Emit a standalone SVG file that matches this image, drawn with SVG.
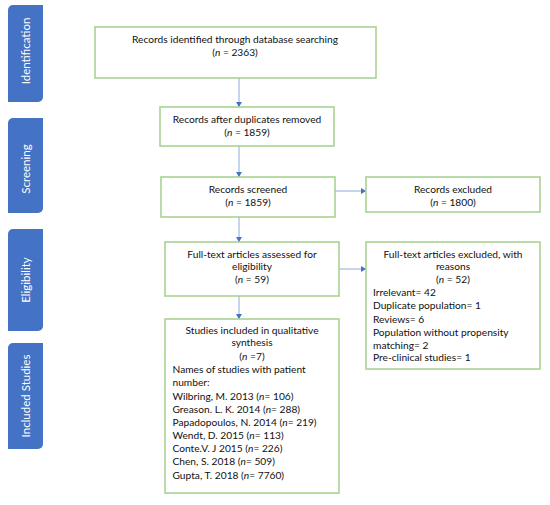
<svg xmlns="http://www.w3.org/2000/svg" width="550" height="505" viewBox="0 0 550 505">
<style>
.tab{fill:#4472C4}
.tabt{fill:#fff;font-family:Lato,"Liberation Sans",sans-serif;font-size:11.5px;text-anchor:middle}
.box{fill:#fff;stroke:#A3D08A;stroke-width:1.5}
.t{font-family:Lato,"Liberation Sans",sans-serif;font-size:10.2px;fill:#111}
.c{text-anchor:middle}
.i{font-style:italic}
.con line{stroke:#8EAADC;stroke-width:1}
</style>
<defs>
<marker id="ah" markerWidth="6" markerHeight="6" refX="5" refY="3" orient="auto" markerUnits="userSpaceOnUse">
<path d="M0,0 L5,3 L0,6 Z" fill="#4472C4"/>
</marker>
</defs>
<rect width="550" height="505" fill="#fff"/>

<g id="tab-identification">
<path class="tab" d="M13,5 H43 V97 A5,5 0 0 1 38,102 H8 V10 A5,5 0 0 1 13,5 Z"/>
<text class="tabt" transform="translate(29.5,51) rotate(-90)">Identification</text>
</g>
<g id="tab-screening">
<path class="tab" d="M13,118 H43 V208 A5,5 0 0 1 38,213 H8 V123 A5,5 0 0 1 13,118 Z"/>
<text class="tabt" transform="translate(29.5,169) rotate(-90)">Screening</text>
</g>
<g id="tab-eligibility">
<path class="tab" d="M13,229 H43 V326 A5,5 0 0 1 38,331 H8 V234 A5,5 0 0 1 13,229 Z"/>
<text class="tabt" transform="translate(29.5,280) rotate(-90)">Eligibility</text>
</g>
<g id="tab-included">
<path class="tab" d="M13,343 H43 V444 A5,5 0 0 1 38,449 H8 V348 A5,5 0 0 1 13,343 Z"/>
<text class="tabt" transform="translate(29.5,396) rotate(-90)">Included Studies</text>
</g>

<g class="con" id="connectors">
<line x1="239" y1="78" x2="239" y2="107" marker-end="url(#ah)"/>
<line x1="239" y1="146" x2="239" y2="177" marker-end="url(#ah)"/>
<line x1="335" y1="191" x2="366" y2="191" marker-end="url(#ah)"/>
<line x1="239" y1="217" x2="239" y2="242" marker-end="url(#ah)"/>
<line x1="339" y1="269" x2="366" y2="269" marker-end="url(#ah)"/>
<line x1="239" y1="296" x2="239" y2="319" marker-end="url(#ah)"/>
</g>

<g id="identified">
<rect class="box" x="95" y="27" width="281" height="51"/>
<text class="t c" x="235" y="43">Records identified through database searching</text>
<text class="t c" x="235" y="56">(<tspan class="i">n</tspan> = 2363)</text>
</g>
<g id="duplicates">
<rect class="box" x="160" y="107" width="174" height="39"/>
<text class="t c" x="247" y="123">Records after duplicates removed</text>
<text class="t c" x="247" y="136">(<tspan class="i">n</tspan> = 1859)</text>
</g>
<g id="screened">
<rect class="box" x="161" y="177" width="174" height="40"/>
<text class="t c" x="248" y="193">Records screened</text>
<text class="t c" x="248" y="206">(<tspan class="i">n</tspan> = 1859)</text>
</g>
<g id="excluded">
<rect class="box" x="366" y="177" width="174" height="35"/>
<text class="t c" x="453" y="193">Records excluded</text>
<text class="t c" x="453" y="206">(<tspan class="i">n</tspan> = 1800)</text>
</g>
<g id="fulltext">
<rect class="box" x="165" y="242" width="174" height="54"/>
<text class="t c" x="252" y="258">Full-text articles assessed for</text>
<text class="t c" x="252" y="270">eligibility</text>
<text class="t c" x="252" y="283">(<tspan class="i">n</tspan> = 59)</text>
</g>
<g id="fulltext-excluded">
<rect class="box" x="366" y="242" width="174" height="127"/>
<text class="t c" x="453" y="258">Full-text articles excluded, with</text>
<text class="t c" x="453" y="270">reasons</text>
<text class="t c" x="453" y="283">(<tspan class="i">n</tspan> = 52)</text>
<text class="t" x="373" y="296">Irrelevant= 42</text>
<text class="t" x="373" y="309">Duplicate population= 1</text>
<text class="t" x="373" y="322.5">Reviews= 6</text>
<text class="t" x="373" y="335.5">Population without propensity</text>
<text class="t" x="373" y="348.5">matching= 2</text>
<text class="t" x="373" y="361">Pre-clinical studies= 1</text>
</g>
<g id="included">
<rect class="box" x="165" y="319" width="174" height="174"/>
<text class="t c" x="252" y="334">Studies included in qualitative</text>
<text class="t c" x="252" y="346">synthesis</text>
<text class="t c" x="252" y="359.5">(<tspan class="i">n</tspan> =7)</text>
<text class="t" x="172.5" y="373">Names of studies with patient</text>
<text class="t" x="172.5" y="386">number:</text>
<text class="t" x="172.5" y="399.5">Wilbring, M. 2013 (<tspan class="i">n</tspan>= 106)</text>
<text class="t" x="172.5" y="413">Greason. L. K. 2014 (<tspan class="i">n</tspan>= 288)</text>
<text class="t" x="172.5" y="425.5">Papadopoulos, N. 2014 (<tspan class="i">n</tspan>= 219)</text>
<text class="t" x="172.5" y="439">Wendt, D. 2015 (<tspan class="i">n</tspan>= 113)</text>
<text class="t" x="172.5" y="452">Conte.V. J 2015 (<tspan class="i">n</tspan>= 226)</text>
<text class="t" x="172.5" y="465">Chen, S. 2018 (<tspan class="i">n</tspan>= 509)</text>
<text class="t" x="172.5" y="479">Gupta, T. 2018 (<tspan class="i">n</tspan>= 7760)</text>
</g>
</svg>
